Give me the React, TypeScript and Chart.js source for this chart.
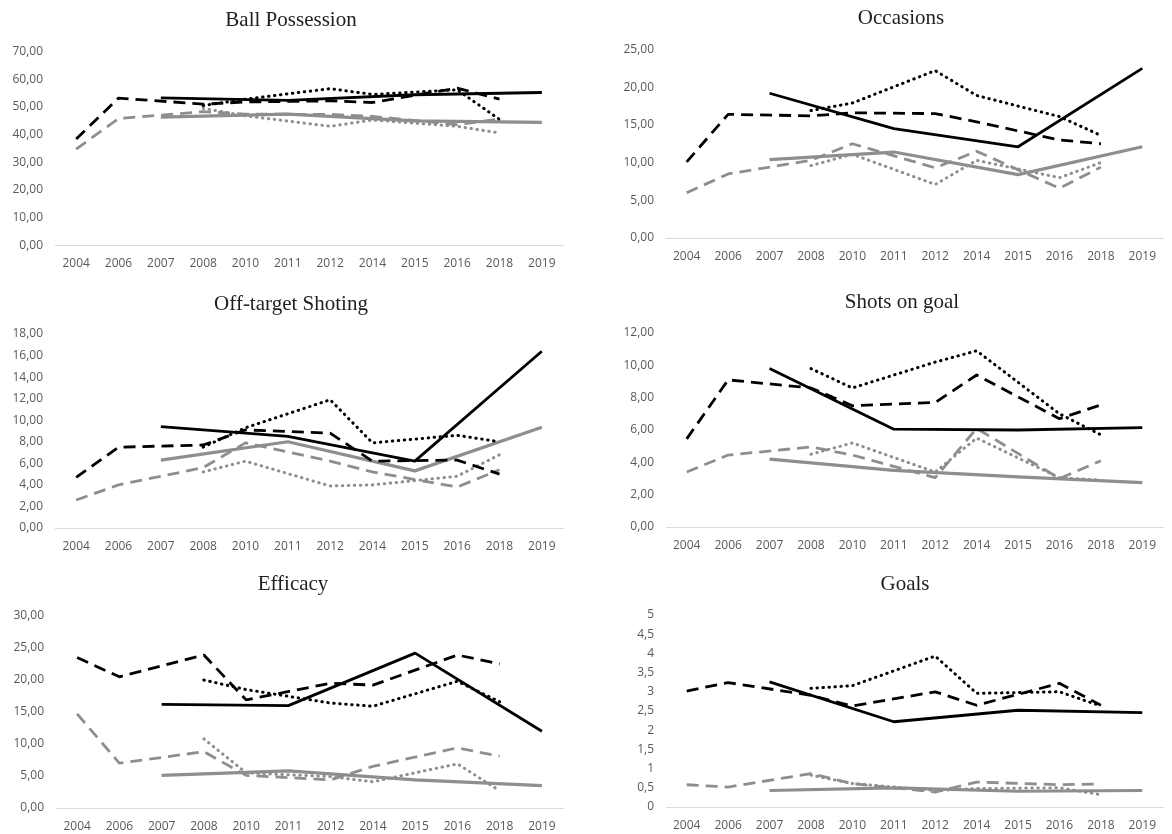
import React, { useEffect, useRef } from 'react';
import { Chart, registerables } from 'chart.js';

Chart.register(...registerables);

// ---------- categories ----------
const years = ['2004', '2006', '2007', '2008', '2010', '2011', '2012', '2014', '2015', '2016', '2018', '2019'];

// ---------- Ball Possession ----------
const bpBlackSolid = [null, null, 53.3, null, null, 52.4, null, null, 54.4, null, null, 55.2];
const bpBlackDashed = [38.4, 53.2, null, 51.0, 51.8, null, 52.2, 51.6, null, 56.8, 52.8, null];
const bpBlackDotted = [null, null, null, 50.5, 52.8, null, 56.6, 54.5, null, 56.2, 45.5, null];
const bpGraySolid = [null, null, 46.3, null, null, 47.4, null, null, 45.0, null, null, 44.4];
const bpGrayDashed = [34.8, 45.8, null, 48.3, 47.4, null, 47.3, 46.6, null, 43.6, 45.6, null];
const bpGrayDotted = [null, null, null, 49.5, 46.8, null, 43.0, 45.3, null, 43.0, 40.6, null];

// ---------- Occasions ----------
const ocBlackSolid = [null, null, 19.2, null, null, 14.5, null, null, 12.1, null, null, 22.5];
const ocBlackDashed = [10.1, 16.4, null, 16.2, 16.6, null, 16.5, 15.4, null, 13.0, 12.5, null];
const ocBlackDotted = [null, null, null, 16.9, 17.9, null, 22.2, 18.9, null, 16.1, 13.6, null];
const ocGraySolid = [null, null, 10.4, null, null, 11.4, null, null, 8.4, null, null, 12.1];
const ocGrayDashed = [6.0, 8.5, null, 10.3, 12.5, null, 9.3, 11.5, null, 6.6, 9.4, null];
const ocGrayDotted = [null, null, null, 9.6, 11.1, null, 7.1, 10.3, null, 8.0, 10.0, null];

// ---------- Off-target Shoting ----------
const otBlackSolid = [null, null, 9.4, null, null, 8.5, null, null, 6.2, null, null, 16.4];
const otBlackDashed = [4.7, 7.5, null, 7.7, 9.1, null, 8.8, 6.2, null, 6.3, 5.0, null];
const otBlackDotted = [null, null, null, 7.5, 9.3, null, 11.9, 7.9, null, 8.6, 8.0, null];
const otGraySolid = [null, null, 6.3, null, null, 8.0, null, null, 5.3, null, null, 9.35];
const otGrayDashed = [2.6, 4.0, null, 5.6, 7.9, null, 6.2, 5.2, null, 3.8, 5.4, null];
const otGrayDotted = [null, null, null, 5.2, 6.2, null, 3.9, 4.0, null, 4.8, 6.8, null];

// ---------- Shots on goal ----------
const sgBlackSolid = [null, null, 9.8, null, null, 6.05, null, null, 6.0, null, null, 6.15];
const sgBlackDashed = [5.45, 9.1, null, 8.6, 7.5, null, 7.7, 9.4, null, 6.7, 7.55, null];
const sgBlackDotted = [null, null, null, 9.8, 8.6, null, 10.2, 10.9, null, 7.0, 5.7, null];
const sgGraySolid = [null, null, 4.2, null, null, 3.5, null, null, 3.1, null, null, 2.75];
const sgGrayDashed = [3.4, 4.45, null, 4.95, 4.45, null, 3.05, 6.1, null, 3.0, 4.1, null];
const sgGrayDotted = [null, null, null, 4.5, 5.2, null, 3.4, 5.5, null, 3.05, 2.9, null];

// ---------- Efficacy ----------
const efBlackSolid = [null, null, 16.2, null, null, 16.0, null, null, 24.2, null, null, 12.0];
const efBlackDashed = [23.5, 20.5, null, 23.9, 16.9, null, 19.5, 19.2, null, 23.9, 22.5, null];
const efBlackDotted = [null, null, null, 20.0, 18.5, null, 16.4, 15.9, null, 19.8, 16.6, null];
const efGraySolid = [null, null, 5.1, null, null, 5.8, null, null, 4.4, null, null, 3.5];
const efGrayDashed = [14.7, 7.0, null, 8.8, 5.1, null, 4.4, 6.5, null, 9.4, 8.1, null];
const efGrayDotted = [null, null, null, 10.8, 5.5, null, 4.9, 4.1, null, 6.9, 2.7, null];

// ---------- Goals ----------
const glBlackSolid = [null, null, 3.26, null, null, 2.22, null, null, 2.52, null, null, 2.46];
const glBlackDashed = [3.02, 3.24, null, 2.91, 2.63, null, 3.0, 2.65, null, 3.22, 2.65, null];
const glBlackDotted = [null, null, null, 3.09, 3.16, null, 3.93, 2.96, null, 3.0, 2.63, null];
const glGraySolid = [null, null, 0.43, null, null, 0.5, null, null, 0.41, null, null, 0.43];
const glGrayDashed = [0.58, 0.52, null, 0.87, 0.61, null, 0.39, 0.65, null, 0.58, 0.6, null];
const glGrayDotted = [null, null, null, 0.83, 0.61, null, 0.43, 0.48, null, 0.5, 0.32, null];

// ---------- titles / axis ranges ----------
const titles = ['Ball Possession', 'Occasions', 'Off-target Shoting', 'Shots on goal', 'Efficacy', 'Goals'];
const yMax = [70, 25, 18, 12, 30, 5];
const yStep = [10, 5, 2, 2, 5, 0.5];
const yDecimals = [2, 2, 2, 2, 2, -1];

const seriesSets = [
  [bpBlackSolid, bpBlackDashed, bpBlackDotted, bpGraySolid, bpGrayDashed, bpGrayDotted],
  [ocBlackSolid, ocBlackDashed, ocBlackDotted, ocGraySolid, ocGrayDashed, ocGrayDotted],
  [otBlackSolid, otBlackDashed, otBlackDotted, otGraySolid, otGrayDashed, otGrayDotted],
  [sgBlackSolid, sgBlackDashed, sgBlackDotted, sgGraySolid, sgGrayDashed, sgGrayDotted],
  [efBlackSolid, efBlackDashed, efBlackDotted, efGraySolid, efGrayDashed, efGrayDotted],
  [glBlackSolid, glBlackDashed, glBlackDotted, glGraySolid, glGrayDashed, glGrayDotted],
];

// ---------- layout (positions & styles) ----------
const layouts = [
  { left: 0, top: 0, w: 586, h: 280, yW: 55, padR: 23, padT: 51.5, padB: 9.5, tx: 291, ty: 20 },
  { left: 586, top: 0, w: 586, h: 280, yW: 80, padR: 9, padT: 49.5, padB: 17, tx: 315, ty: 18 },
  { left: 0, top: 280, w: 586, h: 276, yW: 55, padR: 23, padT: 54, padB: 3, tx: 291, ty: 24 },
  { left: 586, top: 280, w: 586, h: 276, yW: 80, padR: 9, padT: 53, padB: 4, tx: 316, ty: 22 },
  { left: 0, top: 556, w: 586, h: 278, yW: 56, padR: 23, padT: 60, padB: 1, tx: 293, ty: 28 },
  { left: 586, top: 556, w: 586, h: 278, yW: 80, padR: 9, padT: 59, padB: 2, tx: 319, ty: 28 },
];

const BLACK = '#000000';
const GRAY = '#8e8e8e';
const styles = [
  { color: BLACK, dash: [], width: 2.8, cap: 'butt' },
  { color: BLACK, dash: [12, 7], width: 2.8, cap: 'butt' },
  { color: BLACK, dash: [0.5, 5.5], width: 3, cap: 'round' },
  { color: GRAY, dash: [], width: 3.2, cap: 'butt' },
  { color: GRAY, dash: [12, 7], width: 2.8, cap: 'butt' },
  { color: GRAY, dash: [0.5, 5.5], width: 3, cap: 'round' },
];
const seriesNames = ['Black solid', 'Black dashed', 'Black dotted', 'Gray solid', 'Gray dashed', 'Gray dotted'];

const panelTitle = {
  id: 'panelTitle',
  afterDraw(chart: any, _args: any, opts: any) {
    const ctx = chart.ctx;
    ctx.save();
    ctx.font = '21px "Liberation Serif", "Times New Roman", serif';
    ctx.fillStyle = '#1f1f1f';
    ctx.textAlign = 'center';
    ctx.textBaseline = 'middle';
    ctx.fillText(opts.text, opts.x, opts.y);
    ctx.restore();
  },
};

function formatTick(v: number, dec: number) {
  if (dec < 0) return String(v).replace('.', ',');
  return v.toFixed(dec).replace('.', ',');
}

function Panel({ idx }: { idx: number }) {
  const ref = useRef<HTMLCanvasElement | null>(null);
  const L = layouts[idx];
  useEffect(() => {
    if (!ref.current) return;
    const datasets = seriesSets[idx].map((d, i) => ({
      label: seriesNames[i],
      data: d,
      borderColor: styles[i].color,
      backgroundColor: styles[i].color,
      borderWidth: styles[i].width,
      borderDash: styles[i].dash,
      borderCapStyle: styles[i].cap as any,
      borderJoinStyle: 'round' as any,
      pointRadius: 0,
      tension: 0,
      spanGaps: true,
      fill: false,
    }));
    const chart = new Chart(ref.current, {
      type: 'line',
      data: { labels: years, datasets },
      plugins: [panelTitle as any],
      options: {
        animation: false,
        responsive: false,
        devicePixelRatio: 1,
        layout: { padding: { left: 0, right: L.padR, top: L.padT, bottom: L.padB } },
        plugins: {
          legend: { display: false },
          tooltip: { enabled: false },
          title: { display: false },
          panelTitle: { text: titles[idx], x: L.tx, y: L.ty },
        } as any,
        scales: {
          x: {
            type: 'category',
            offset: true,
            grid: { display: false, drawTicks: false },
            border: { display: true, color: '#d9d9d9', width: 1 },
            ticks: {
              color: '#595959',
              font: { family: '"Open Sans", "DejaVu Sans", sans-serif', size: 12 },
              padding: 11,
              maxRotation: 0,
              autoSkip: false,
            },
            afterFit: (s: any) => { s.height = 25; },
          },
          y: {
            min: 0,
            max: yMax[idx],
            grid: { display: false, drawTicks: false },
            border: { display: false },
            ticks: {
              stepSize: yStep[idx],
              color: '#595959',
              font: { family: '"Open Sans", "DejaVu Sans", sans-serif', size: 12 },
              padding: 12,
              callback: (v: any) => formatTick(Number(v), yDecimals[idx]),
            },
            afterFit: (s: any) => { s.width = L.yW; },
          },
        },
      },
    });
    return () => chart.destroy();
  }, [idx]);
  return (
    <canvas
      ref={ref}
      width={L.w}
      height={L.h}
      style={{ position: 'absolute', left: L.left, top: L.top, width: L.w, height: L.h }}
    />
  );
}

export default function App() {
  return (
    <div
      style={{
        position: 'fixed',
        left: 0,
        top: 0,
        width: 1172,
        height: 834,
        background: '#ffffff',
        overflow: 'hidden',
      }}
    >
      {titles.map((_, i) => (
        <Panel key={i} idx={i} />
      ))}
    </div>
  );
}
